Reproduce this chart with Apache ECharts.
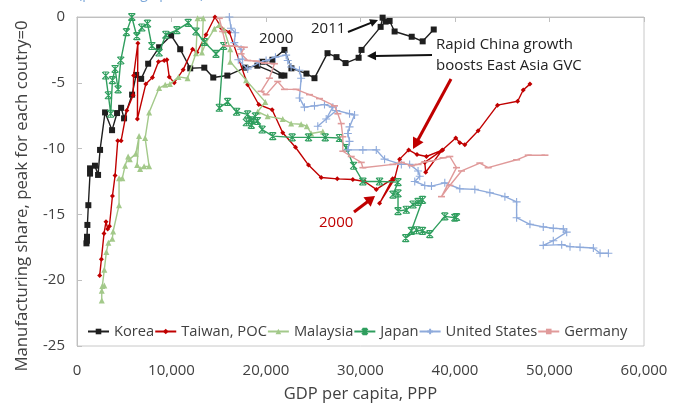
<!DOCTYPE html>
<html>
<head>
<meta charset="utf-8">
<script src="https://cdn.jsdelivr.net/npm/echarts@6/dist/echarts.min.js"></script>
<style>
html,body{margin:0;padding:0;background:#fff;}
#chart{width:678px;height:408px;}
</style>
</head>
<body>
<div id="chart"></div>
<script>
// ---- data: [GDP per capita PPP, manufacturing share relative to peak] ----
const seriesNames = ["Korea", "Taiwan, POC", "Malaysia", "Japan", "United States", "Germany"];

const korea = [[1000,-17.2],[1050,-17.0],[1060,-16.7],[1100,-15.8],[1200,-14.3],[1380,-11.9],[1380,-11.5],[1900,-11.3],[2230,-12.0],[2440,-10.1],[2970,-7.25],[3710,-8.6],[4240,-7.3],[4670,-6.9],[4980,-7.7],[5830,-5.9],[6260,-4.4],[6790,-4.7],[7530,-3.55],[8690,-2.3],[9960,-1.4],[10920,-2.45],[11980,-3.9],[13470,-3.85],[14420,-4.6],[15910,-4.45],[17810,-3.85],[19090,-3.7],[21630,-4.45],[21950,-4.45],[19620,-3.4],[20680,-3.25],[21950,-2.5],[22690,-3.9],[24280,-4.3],[25130,-4.65],[26510,-2.75],[27460,-3.05],[28420,-3.5],[29800,-3.1],[30110,-2.5],[32130,-0.75],[32340,-0.05],[32660,-0.35],[33080,-0.3],[33610,-1.1],[35420,-1.5],[36580,-1.85],[37750,-0.95]];

const taiwan = [[2400,-19.65],[2580,-18.4],[2860,-16.45],[3070,-15.55],[3250,-16.1],[3430,-15.9],[3750,-13.6],[4030,-12.05],[4310,-9.4],[4670,-9.4],[5270,-7.1],[5940,-5.95],[5990,-4.45],[6440,-2.0],[6390,-7.75],[7280,-5.1],[7980,-4.6],[8620,-3.4],[9230,-3.3],[9510,-3.25],[9760,-4.55],[10290,-5.0],[11240,-4.0],[12230,-2.45],[12690,-2.7],[13650,-1.35],[14600,0],[15300,-0.85],[16120,-1.15],[18060,-5.15],[19230,-6.65],[20650,-7.05],[21770,-8.8],[23120,-9.9],[24500,-11.25],[25840,-12.2],[27540,-12.3],[29190,-12.35],[30430,-12.5],[31670,-13.1],[33400,-12.3],[32020,-14.15],[33610,-12.3],[34140,-10.8],[35100,-10.1],[35980,-10.45],[36980,-10.6],[38700,-10.1],[36800,-11.05],[36900,-11.8],[38600,-10.15],[40080,-9.2],[40500,-9.55],[41040,-9.7],[42450,-8.65],[44500,-6.7],[46630,-6.4],[47220,-5.55],[47930,-5.1]];

const malaysia = [[2620,-21.55],[2620,-20.8],[2680,-20.45],[2890,-20.4],[2890,-19.2],[3110,-17.85],[3320,-17.15],[3740,-16.85],[3820,-16.3],[4450,-14.3],[4450,-12.25],[4800,-12.25],[5090,-11.3],[5410,-10.6],[5590,-10.8],[6220,-10.4],[6570,-9.05],[6360,-11.25],[6680,-11.55],[7100,-11.35],[7630,-11.35],[7210,-9.2],[7630,-7.25],[8690,-5.4],[9330,-5.15],[9830,-5.1],[10740,-4.55],[11700,-4.65],[12590,-2.75],[12760,-0.1],[13360,-0.1],[13220,-2.7],[13650,-1.95],[14530,-0.9],[15060,-0.6],[15590,-1.0],[16220,-2.45],[16220,-3.4],[17890,-4.8],[19930,-6.45],[19120,-7.2],[20180,-7.55],[21770,-7.75],[22660,-8.1],[23720,-8.15],[24320,-8.3],[24780,-8.85],[26010,-8.7]];

const japan = [[3040,-4.45],[3320,-5.95],[3570,-7.35],[3750,-4.8],[4030,-3.95],[4350,-5.5],[4630,-3.3],[5230,-1.15],[5800,0],[6330,-1.45],[6860,-0.8],[7460,-0.5],[7920,-2.2],[8690,-2.7],[9400,-1.35],[10570,-1.0],[11770,-0.45],[12590,-1.1],[13470,-1.9],[14710,-2.8],[15520,-2.2],[15060,-6.9],[15940,-6.45],[16890,-7.2],[18060,-7.4],[18450,-7.85],[17920,-8.0],[18880,-7.55],[18450,-8.2],[19090,-7.9],[19590,-8.55],[20710,-9.05],[22770,-9.15],[24500,-9.15],[26270,-9.15],[27780,-9.2],[28490,-9.95],[29270,-11.3],[30250,-12.5],[32020,-12.5],[33970,-12.55],[33440,-13.5],[33970,-13.4],[33970,-14.75],[34850,-14.65],[35560,-14.25],[36090,-14.05],[36560,-13.9],[35380,-16.25],[34780,-16.8],[35920,-16.2],[36560,-16.25],[37330,-16.5],[38920,-15.15],[39980,-15.25],[40160,-15.2]];

const unitedStates = [[16120,0],[16300,-0.85],[16750,-1.2],[16650,-1.95],[17360,-2.45],[17530,-3.2],[17070,-3.25],[18060,-3.95],[19300,-3.45],[20010,-3.3],[21000,-3.05],[22130,-2.9],[22300,-3.3],[22660,-3.8],[23540,-4.05],[23720,-4.65],[23540,-6.15],[24070,-6.85],[25130,-6.75],[26190,-6.65],[27070,-6.85],[26370,-7.75],[25480,-8.3],[27430,-7.1],[28840,-7.35],[29370,-7.45],[28840,-8.35],[28660,-8.85],[28840,-9.45],[28660,-10.1],[30250,-10.1],[31670,-10.1],[32550,-10.8],[34320,-11.2],[35200,-11.2],[36090,-11.7],[36270,-12.1],[35740,-12.5],[36800,-12.8],[37510,-12.85],[38920,-12.6],[40510,-13.05],[42100,-13.1],[43690,-13.35],[45280,-13.65],[46520,-14.05],[46520,-15.25],[47930,-15.75],[49340,-15.95],[50400,-16.05],[51460,-16.1],[51820,-16.35],[50400,-17.0],[49340,-17.35],[51290,-17.3],[52170,-17.45],[53230,-17.5],[54640,-17.55],[55350,-17.95],[56230,-17.95]];

const germany = [[15060,-0.1],[15410,-1.1],[15770,-2.2],[16470,-2.2],[17710,-2.3],[17360,-2.8],[18060,-3.3],[18950,-3.35],[19830,-3.5],[20890,-3.55],[20360,-4.65],[19480,-5.65],[20010,-5.9],[21240,-4.9],[21950,-5.5],[23190,-5.5],[24600,-5.9],[25660,-6.2],[27250,-6.75],[27600,-7.35],[27960,-8.1],[28130,-9.1],[28130,-10.2],[29020,-10.6],[30080,-11.05],[30250,-11.45],[33440,-11.2],[34320,-11.05],[35380,-11.3],[36090,-11.2],[36800,-11.0],[37510,-10.95],[38740,-10.7],[39450,-10.6],[40160,-11.45],[38570,-13.65],[39450,-12.8],[40690,-11.7],[42630,-11.1],[43510,-11.45],[46520,-10.85],[47750,-10.5],[49520,-10.5]];

const xMin = 0, xMax = 60000, xStep = 10000;
const yMin = -25, yMax = 0, yStep = 5;

// ---- styling ----
const colors = ["#1f1f1f", "#c00000", "#a3c98a", "#2f9e5e", "#8eaadb", "#e09a9a"];
const symbols = [
  "rect",
  "diamond",
  "triangle",
  "path://M0,0L10,10M10,0L0,10M5,0L5,10M1,0L9,0M1,10L9,10",
  "path://M5,0L5,10M0,5L10,5",
  "rect"
];
const symbolSizes = [6, 5, 6, 7, 8, [7, 1.6]];
const allData = [korea, taiwan, malaysia, japan, unitedStates, germany];
const stroked = [false, false, false, true, true, false];

const FONT = "'Open Sans', 'Noto Sans', sans-serif";
const TXT = "#404040";

const series = allData.map((d, i) => ({
  name: seriesNames[i],
  type: "line",
  data: d,
  symbol: symbols[i],
  symbolSize: symbolSizes[i],
  showSymbol: true,
  animation: false,
  lineStyle: { color: colors[i], width: 1.4 },
  itemStyle: stroked[i]
    ? { color: colors[i], borderColor: colors[i], borderWidth: 1.1 }
    : { color: colors[i], borderWidth: 0 },
  emphasis: { disabled: true },
  z: 2 + i
}));

function arrow(x1, y1, x2, y2, color, w, hl, hw) {
  const dx = x2 - x1, dy = y2 - y1, L = Math.sqrt(dx*dx + dy*dy);
  const ux = dx / L, uy = dy / L, px = -uy, py = ux;
  const bx = x2 - ux * hl, by = y2 - uy * hl;
  return [
    { type: "line", shape: { x1: x1, y1: y1, x2: bx + ux*1, y2: by + uy*1 }, style: { stroke: color, lineWidth: w }, z: 50 },
    { type: "polygon", shape: { points: [[x2, y2], [bx + px*hw, by + py*hw], [bx - px*hw, by - py*hw]] }, style: { fill: color }, z: 50 }
  ];
}

const graphics = [
  { type: "text", x: 78, y: 1, style: { text: "(percentage points)", font: "14px " + FONT, fill: "#7ba7d9", textVerticalAlign: "bottom" } },
  { type: "text", x: 22, y: 196, rotation: Math.PI / 2,
    style: { text: "Manufacturing share, peak for each coutry=0", font: "16.8px " + FONT, fill: TXT, textAlign: "center", textVerticalAlign: "middle" } },
  { type: "text", left: 259, top: 31, style: { text: "2000", font: "15px " + FONT, fill: "#222" }, z: 50 },
  { type: "text", left: 311, top: 21, style: { text: "2011", font: "15px " + FONT, fill: "#222" }, z: 50 },
  { type: "text", left: 436, top: 37, style: { text: "Rapid China growth", font: "15px " + FONT, fill: "#222" }, z: 50 },
  { type: "text", left: 436, top: 58, style: { text: "boosts East Asia GVC", font: "15px " + FONT, fill: "#222" }, z: 50 },
  { type: "text", left: 319, top: 215, style: { text: "2000", font: "15px " + FONT, fill: "#c00000" }, z: 50 }
].concat(
  arrow(348, 32, 378, 20, "#111", 2, 8, 4),
  arrow(432, 55, 367, 56, "#111", 2, 9, 4.5),
  arrow(451, 79, 413, 149, "#c00000", 3, 11, 6),
  arrow(354, 212, 375, 196, "#c00000", 3, 10, 6)
);

const chart = echarts.init(document.getElementById("chart"), null, { renderer: "canvas" });
chart.setOption({
  animation: false,
  backgroundColor: "#ffffff",
  textStyle: { fontFamily: FONT },
  grid: { left: 77, top: 17, right: 34, bottom: 53, show: true, borderColor: "#c8c8c8", borderWidth: 1, containLabel: false },
  legend: {
    data: seriesNames,
    left: 82, top: 319,
    itemWidth: 21, itemHeight: 7, itemGap: 0,
    textStyle: { fontSize: 14.7, color: TXT, fontFamily: FONT },
    selectedMode: false
  },
  xAxis: [
    {
      type: "value", position: "bottom", min: xMin, max: xMax, interval: xStep,
      axisLine: { show: false }, axisTick: { show: false }, splitLine: { show: false },
      axisLabel: { fontSize: 15, color: TXT, margin: 17, fontFamily: FONT,
        formatter: v => v.toString().replace(/\B(?=(\d{3})+(?!\d))/g, ",") },
      name: "GDP per capita, PPP", nameLocation: "middle", nameGap: 40,
      nameTextStyle: { fontSize: 16.5, color: TXT, fontFamily: FONT }
    },
    {
      type: "value", position: "top", min: xMin, max: xMax, interval: xStep,
      axisLine: { show: true, onZero: false, lineStyle: { color: "#c0c0c0" } },
      axisTick: { show: true, inside: true, length: 5, lineStyle: { color: "#c0c0c0" } },
      axisLabel: { show: false }, splitLine: { show: false }
    }
  ],
  yAxis: {
    type: "value", min: yMin, max: yMax, interval: yStep,
    axisLine: { show: true, lineStyle: { color: "#c0c0c0" } },
    axisTick: { show: true, inside: true, length: 5, lineStyle: { color: "#c0c0c0" } },
    splitLine: { show: false },
    axisLabel: { fontSize: 15, color: TXT, margin: 12, fontFamily: FONT }
  },
  series: series,
  graphic: graphics
});
</script>
</body>
</html>
